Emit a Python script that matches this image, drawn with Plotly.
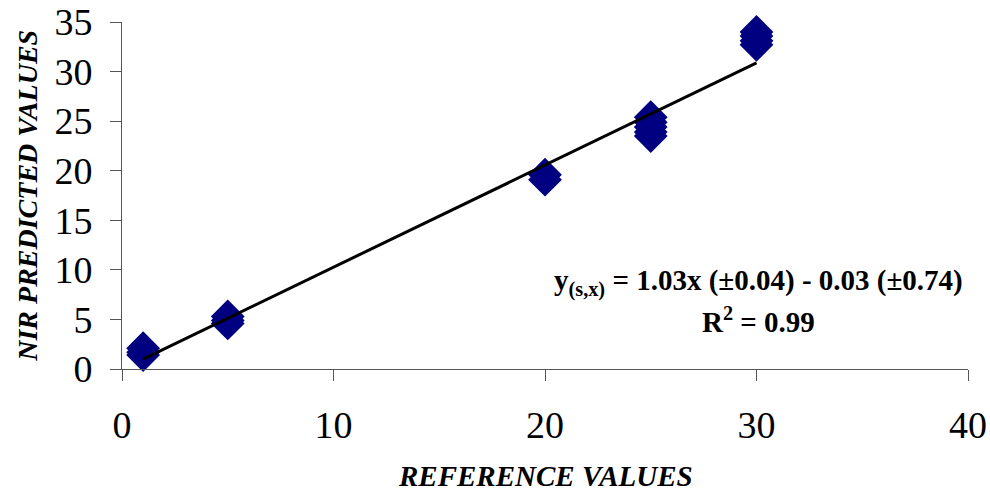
import plotly.graph_objects as go

# Data
ref_x = [1, 1, 1, 5, 5, 5, 20, 20, 25, 25, 25, 25, 25, 30, 30, 30, 30]
nir_y = [2.1, 1.7, 1.4, 5.3, 4.9, 4.6, 19.6, 19.1, 25.4, 24.9, 24.4, 23.9, 23.5, 34.0, 33.6, 33.1, 32.7]

slope = 1.03
intercept = -0.03
fit_x = [min(ref_x), max(ref_x)]
fit_y = [slope * v + intercept for v in fit_x]

x_ticks = [0, 10, 20, 30, 40]
y_ticks = [0, 5, 10, 15, 20, 25, 30, 35]

FONT = "Liberation Serif, Times New Roman, serif"

fig = go.Figure()
fig.add_trace(go.Scatter(
    x=ref_x, y=nir_y, mode="markers",
    marker=dict(symbol="diamond", size=26, color="#000080", line=dict(width=0)),
    showlegend=False, cliponaxis=False,
))
fig.add_trace(go.Scatter(
    x=fit_x, y=fit_y, mode="lines",
    line=dict(color="black", width=3),
    showlegend=False, cliponaxis=False,
))
# empty trace so the overlay axis (visible tick marks) is drawn
fig.add_trace(go.Scatter(
    x=[None], y=[None], yaxis="y2", mode="markers",
    showlegend=False, hoverinfo="skip",
))

tickfont = dict(family=FONT, size=38, color="black")
fig.update_layout(
    xaxis=dict(
        range=[0, 40], tickvals=x_ticks, ticklabelstandoff=11,
        showgrid=False, zeroline=False, showline=True, linecolor="#555555", linewidth=1,
        ticks="outside", ticklen=11, tickcolor="#555555", tickwidth=1,
        tickfont=tickfont, automargin=False,
    ),
    # labelled axis: long transparent ticks only push the labels away from the axis line
    yaxis=dict(
        range=[0, 35], tickvals=y_ticks,
        showgrid=False, zeroline=False, showline=True, linecolor="#555555", linewidth=1,
        ticks="outside", ticklen=21, tickcolor="rgba(255,255,255,0)", tickwidth=1,
        tickfont=tickfont, automargin=False,
    ),
    # overlay axis drawing the visible short tick marks
    yaxis2=dict(
        range=[0, 35], tickvals=y_ticks, overlaying="y", side="left", anchor="x",
        showgrid=False, zeroline=False, showline=True, linecolor="#555555", linewidth=1,
        ticks="outside", ticklen=11, tickcolor="#555555", tickwidth=1,
        showticklabels=False, automargin=False,
    ),
)

fig.add_annotation(
    text="<b><i>REFERENCE VALUES</i></b>", xref="paper", yref="paper",
    x=0.5, y=-0.307, xanchor="center", yanchor="middle", showarrow=False,
    font=dict(family=FONT, size=29, color="black"),
)
fig.add_annotation(
    text="<b><i>NIR PREDICTED VALUES</i></b>", xref="paper", yref="paper",
    x=-0.112, y=0.5, xanchor="center", yanchor="middle", showarrow=False, textangle=-90,
    font=dict(family=FONT, size=28, color="black"),
)
fig.add_annotation(
    text="<b>y<sub>(s,x)</sub> = %.2fx (±0.04) - %.2f (±0.74)</b>" % (slope, abs(intercept)),
    xref="paper", yref="paper", x=0.7526, y=0.25, xanchor="center", yanchor="middle",
    showarrow=False, font=dict(family=FONT, size=29, color="black"),
)
fig.add_annotation(
    text="<b>R<sup>2</sup> = 0.99</b>",
    xref="paper", yref="paper", x=0.7526, y=0.142, xanchor="center", yanchor="middle",
    showarrow=False, font=dict(family=FONT, size=29, color="black"),
)

fig.update_layout(
    width=990, height=498,
    margin=dict(l=122, r=22, t=22, b=129),
    plot_bgcolor="white", paper_bgcolor="white",
)
fig.write_html("out.html")
